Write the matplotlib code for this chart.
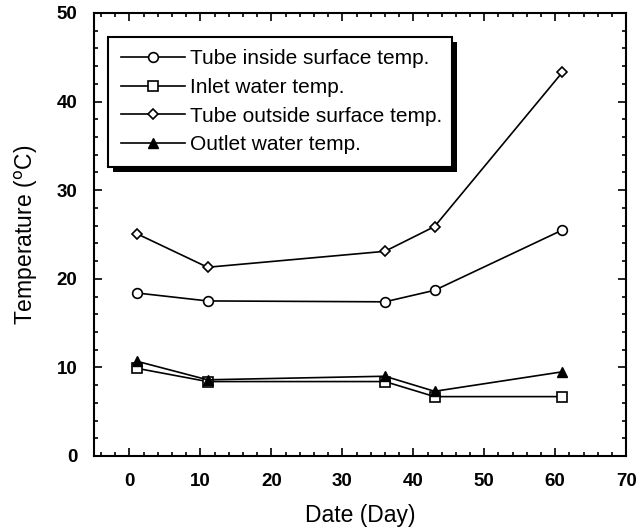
import matplotlib
matplotlib.use("Agg")
import matplotlib.pyplot as plt
from matplotlib.patches import Rectangle
from matplotlib.transforms import IdentityTransform
import numpy as np

plt.rcParams['font.family'] = ['Liberation Sans', 'DejaVu Sans']

# Sampling days and measured temperatures
days = [1, 11, 36, 43, 61]
tube_inside = [18.4, 17.5, 17.4, 18.7, 25.5]
inlet_water = [9.9, 8.4, 8.4, 6.7, 6.7]
tube_outside = [25.1, 21.3, 23.1, 25.9, 43.3]
outlet_water = [10.7, 8.6, 9.0, 7.3, 9.5]

labels = ["Tube inside surface temp.", "Inlet water temp.",
          "Tube outside surface temp.", "Outlet water temp."]

fig = plt.figure(figsize=(6.37, 5.28), dpi=100)
ax = fig.add_axes([0.1476, 0.1364, 0.8354, 0.839])

ax.plot(days, tube_inside, color="black", lw=1.2, marker="o", ms=7,
        mfc="white", mec="black", mew=1.2, label=labels[0])
ax.plot(days, inlet_water, color="black", lw=1.2, marker="s", ms=6.5,
        mfc="white", mec="black", mew=1.2, label=labels[1])
ax.plot(days, tube_outside, color="black", lw=1.2, marker="D", ms=5,
        mfc="white", mec="black", mew=1.2, label=labels[2])
ax.plot(days, outlet_water, color="black", lw=1.2, marker="^", ms=7,
        mfc="black", mec="black", label=labels[3])

ax.set_xlim(-5, 70)
ax.set_ylim(0, 50)
ax.set_xticks(np.arange(0, 71, 10))
ax.set_xticks(np.arange(-4, 71, 2), minor=True)
ax.set_yticks(np.arange(0, 51, 10))
ax.set_yticks(np.arange(0, 51, 2), minor=True)

ax.tick_params(which="both", direction="in", top=True, right=True, width=1.2)
ax.tick_params(which="major", length=6, labelsize=13.5, pad=12)
ax.tick_params(which="minor", length=3)
for lbl in ax.get_xticklabels() + ax.get_yticklabels():
    lbl.set_fontweight("bold")
for sp in ax.spines.values():
    sp.set_linewidth(1.5)

ax.set_xlabel("Date (Day)", fontsize=16.5, labelpad=10)
ax.set_ylabel("Temperature ($^{\\rm o}$C)", fontsize=16.5, labelpad=12)

# legend stretched to a fixed width, text stays left aligned
leg = ax.legend(loc="upper left", bbox_to_anchor=(0.0263, 0.5, 0.647, 0.446),
                mode="expand", borderaxespad=0,
                fontsize=15, handlelength=3.1, handletextpad=0.25,
                labelspacing=0.46, borderpad=0.6, fancybox=False,
                framealpha=1, edgecolor="black")
leg.get_frame().set_linewidth(1.5)
leg.set_zorder(6)

# solid drop shadow behind the legend box
fig.canvas.draw()
bb = leg.get_frame().get_window_extent()
ax.add_patch(Rectangle((bb.x0 + 5, bb.y0 - 5), bb.width, bb.height,
                       transform=IdentityTransform(), facecolor="black",
                       edgecolor="none", zorder=5, clip_on=False))

fig.savefig("out.png", dpi=100)
